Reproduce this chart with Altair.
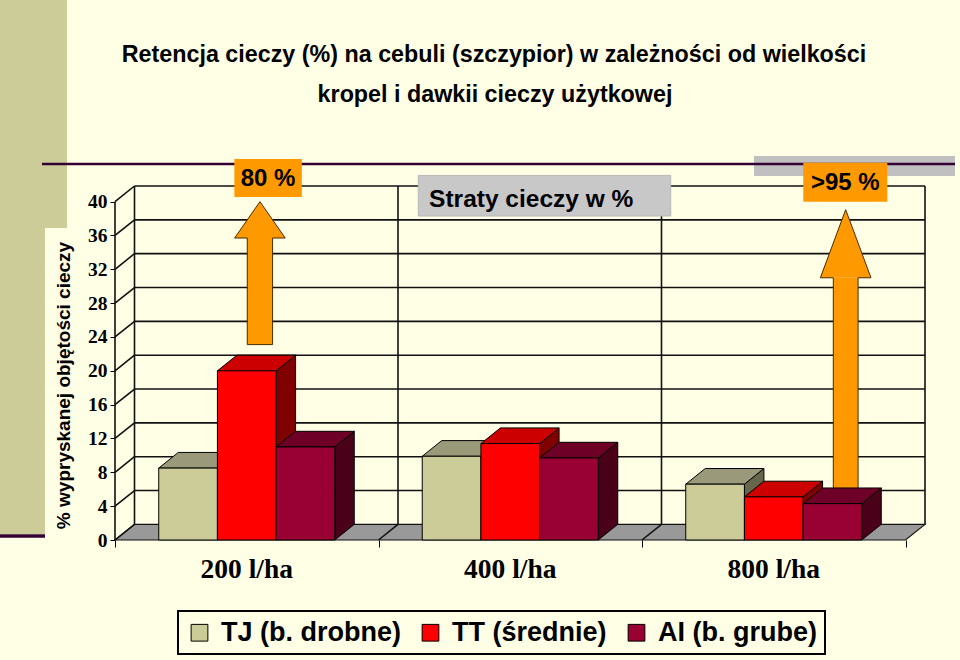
import altair as alt
import pandas as pd

# ---------------- data ----------------
categories = ["200 l/ha", "400 l/ha", "800 l/ha"]
series = ["TJ (b. drobne)", "TT (średnie)", "AI (b. grube)"]
tj_values = [8.5, 9.9, 6.6]
tt_values = [20.0, 11.4, 5.1]
ai_values = [11.0, 9.7, 4.3]
y_ticks = [0, 4, 8, 12, 16, 20, 24, 28, 32, 36, 40]
title_lines = ["Retencja cieczy (%) na cebuli (szczypior) w zależności od  wielkości",
               "kropel i dawkii cieczy użytkowej"]
axis_title = "% wypryskanej objętości cieczy"
loss_title = "Straty cieczy w %"
loss_labels = ["80 %", ">95 %"]

# ---------------- styles / geometry ----------------
FRONT = ["#CCCC99", "#FF0000", "#990033"]
TOP = ["#9A9A7A", "#CC0000", "#6E0028"]
SIDE = ["#66664D", "#800000", "#4A0018"]
BG = "#FFFFE6"
ORANGE = "#FF9900"
LINE = "#111111"

W, H = 810, 354
DX, DY = 0.074, 1.85          # depth offset in data units
XMAX, YMAX = 3 + DX, 40 + DY
GROUP = 0.668
BAR = GROUP / 3

xscale = alt.Scale(domain=[0, XMAX], nice=False, zero=False)
yscale = alt.Scale(domain=[0, YMAX], nice=False, zero=False)
xaxis = alt.Axis(values=[0, 1, 2, 3], labels=False, domain=False, grid=False,
                 tickSize=7, tickColor="black", tickWidth=1)
yaxis = alt.Axis(values=y_ticks, domain=False, grid=False, tickSize=5,
                 tickColor="black", tickWidth=1, labelFont="Liberation Serif",
                 labelFontWeight="bold", labelFontSize=19.5, labelColor="black",
                 labelPadding=3, title=axis_title, titleFont="Liberation Sans",
                 titleFontWeight="bold", titleFontSize=19, titleColor="black",
                 titleX=-52, titleY=199, titleAngle=270, titleAlign="center",
                 titleBaseline="middle")


def X(f):
    return alt.X(f, type="quantitative", scale=xscale, axis=xaxis, title=None, stack=None)


def Y(f):
    return alt.Y(f, type="quantitative", scale=yscale, axis=yaxis, stack=None)


# ---------------- tables ----------------
value_lists = [tj_values, tt_values, ai_values]
front_rows, top_rows, side_rows = [], [], []
for i, cat in enumerate(categories):
    for j, s in enumerate(series):
        v = value_lists[j][i]
        x0 = i + 0.5 - GROUP / 2 + j * BAR
        x1 = x0 + BAR
        bid = f"{i}-{j}"
        front_rows.append({"series": s, "x0": x0, "x1": x1, "base": 0, "v": v})
        top_rows += [{"id": bid, "y": v, "xa": x0, "xb": x1, "fill": TOP[j]},
                     {"id": bid, "y": v + DY, "xa": x0 + DX, "xb": x1 + DX, "fill": TOP[j]}]
        side_rows += [{"id": bid, "x": x1, "ya": 0, "yb": v, "fill": SIDE[j]},
                      {"id": bid, "x": x1 + DX, "ya": DY, "yb": v + DY, "fill": SIDE[j]}]
front_df = pd.DataFrame(front_rows)
top_df = pd.DataFrame(top_rows)
side_df = pd.DataFrame(side_rows)

floor_df = pd.DataFrame([{"y": 0, "xa": 0, "xb": 3}, {"y": DY, "xa": DX, "xb": 3 + DX}])

grid_rows = []
for v in y_ticks:
    grid_rows.append({"x": 0, "x2": DX, "y": v, "y2": v + DY})          # left wall
    if v > 0:
        grid_rows.append({"x": DX, "x2": 3 + DX, "y": v + DY, "y2": v + DY})  # back wall
for k in [0, 1, 2, 3]:
    grid_rows.append({"x": DX + k, "x2": DX + k, "y": DY, "y2": 40 + DY})
for k in [1, 2]:
    grid_rows.append({"x": k, "x2": k + DX, "y": 0, "y2": DY})
grid_rows.append({"x": 0, "x2": 0, "y": 0, "y2": 40})
grid_df = pd.DataFrame(grid_rows)

# arrows (annotation geometry)
arrows = [
    {"c": 0.550, "tip": 40.0, "base": 35.7, "bottom": 23.1, "hh": 0.096, "sh": 0.048},
    {"c": 2.773, "tip": 39.05, "base": 31.0, "bottom": 4.3, "hh": 0.096, "sh": 0.047},
]
head_rows, shaft_rows, outline_rows = [], [], []
for a_i, a in enumerate(arrows):
    c, tip, base, bottom, hh, sh = a["c"], a["tip"], a["base"], a["bottom"], a["hh"], a["sh"]
    head_rows += [{"id": a_i, "x": c - hh, "y": base, "y2": base},
                  {"id": a_i, "x": c, "y": tip, "y2": base},
                  {"id": a_i, "x": c + hh, "y": base, "y2": base}]
    shaft_rows.append({"id": a_i, "x0": c - sh, "x1": c + sh, "y0": bottom, "y1": base})
    pts = [(c - sh, bottom), (c - sh, base), (c - hh, base), (c, tip), (c + hh, base),
           (c + sh, base), (c + sh, bottom), (c - sh, bottom)]
    for o, (x, y) in enumerate(pts):
        outline_rows.append({"id": a_i, "o": o, "x": x, "y": y})
head_df = pd.DataFrame(head_rows)
shaft_df = pd.DataFrame(shaft_rows)
outline_df = pd.DataFrame(outline_rows)

label_boxes = pd.DataFrame([
    {"t": loss_labels[0], "x0": 0.453, "x1": 0.709, "y0": 40.55, "y1": 45.05},
    {"t": loss_labels[1], "x0": 2.612, "x1": 2.931, "y0": 40.0, "y1": 44.6},
])
label_boxes["xm"] = (label_boxes.x0 + label_boxes.x1) / 2
label_boxes["ym"] = (label_boxes.y0 + label_boxes.y1) / 2

loss_box = pd.DataFrame([{"t": loss_title, "x0": 1.151, "x1": 2.109, "y0": 38.3, "y1": 43.1,
                          "tx": 1.192, "ty": 40.5}])

cat_df = pd.DataFrame({"cat": categories, "xc": [i + 0.5 for i in range(len(categories))]})

one = pd.DataFrame({"k": [0]})

# ---------------- decorations (pixel, relative to plot origin 115,186) ----------------
OX, OY = 115, 186


def prect(x0, x1, y0, y1, color):
    return alt.Chart(one).mark_rect(color=color).encode(
        x=alt.value(x0 - OX), x2=alt.value(x1 - OX), y=alt.value(y0 - OY), y2=alt.value(y1 - OY))


def pline(x0, x1, y, color, w):
    return alt.Chart(one).mark_rule(color=color, strokeWidth=w).encode(
        x=alt.value(x0 - OX), x2=alt.value(x1 - OX), y=alt.value(y - OY))


deco = [
    prect(0, 67, 0, 228, "#CCCC99"),
    prect(0, 45, 228, 534, "#CCCC99"),
    prect(754, 955, 156, 176, "#C0C0C0"),
    pline(42, 955, 164, "#330033", 2.5),
    pline(0, 45, 536, "#330033", 3.5),
]

title_layers = [
    alt.Chart(one).mark_text(text=title_lines[0], font="Liberation Sans", fontWeight="bold",
                             fontSize=23.3, color="black", align="center", baseline="middle").encode(
        x=alt.value(494 - OX), y=alt.value(55 - OY)),
    alt.Chart(one).mark_text(text=title_lines[1], font="Liberation Sans", fontWeight="bold",
                             fontSize=23.3, color="black", align="center", baseline="middle").encode(
        x=alt.value(495 - OX), y=alt.value(95 - OY)),
]

# ---------------- chart layers ----------------
floor = alt.Chart(floor_df).mark_area(orient="horizontal", fill="#999999", stroke=LINE,
                                      strokeWidth=1.2).encode(y=Y("y"), x=X("xa"), x2="xb")

grid = alt.Chart(grid_df).mark_rule(color=LINE, strokeWidth=1.6).encode(
    x=X("x"), x2="x2", y=Y("y"), y2="y2")

loss_rect = alt.Chart(loss_box).mark_rect(color="#C8C8C8", stroke="#B8B8B8", strokeWidth=1).encode(
    x=X("x0"), x2="x1", y=Y("y0"), y2="y1")
loss_text = alt.Chart(loss_box).mark_text(font="Liberation Sans", fontWeight="bold", fontSize=24.5,
                                          color="black", align="left", baseline="middle", dy=3).encode(
    x=X("tx"), y=Y("ty"), text="t:N")

arrow_head = alt.Chart(head_df).mark_area(orient="vertical", fill=ORANGE).encode(
    x=X("x"), y=Y("y"), y2="y2", detail="id:N")
arrow_shaft = alt.Chart(shaft_df).mark_rect(color=ORANGE).encode(
    x=X("x0"), x2="x1", y=Y("y0"), y2="y1")
arrow_line = alt.Chart(outline_df).mark_line(color="#4A2A00", strokeWidth=1).encode(
    x=X("x"), y=Y("y"), detail="id:N", order="o:Q")

sides = alt.Chart(side_df).mark_area(orient="vertical", stroke="black", strokeWidth=1).encode(
    x=X("x"), y=Y("ya"), y2="yb", detail="id:N", fill=alt.Fill("fill:N", scale=None))
tops = alt.Chart(top_df).mark_area(orient="horizontal", stroke="black", strokeWidth=1).encode(
    y=Y("y"), x=X("xa"), x2="xb", detail="id:N", fill=alt.Fill("fill:N", scale=None))
fronts = alt.Chart(front_df).mark_rect(stroke="black", strokeWidth=1).encode(
    x=X("x0"), x2="x1", y=Y("base"), y2="v",
    color=alt.Color("series:N", scale=alt.Scale(domain=series, range=FRONT),
                    legend=alt.Legend(title=None, orient="none", legendX=63, legendY=425,
                                      direction="horizontal", labelFont="Liberation Sans",
                                      labelFontWeight="bold", labelFontSize=27,
                                      labelColor="black", symbolType="square",
                                      symbolSize=280, symbolStrokeColor="black",
                                      symbolStrokeWidth=1, symbolOpacity=1, labelOffset=8,
                                      columnPadding=16, padding=8, strokeColor="black",
                                      fillColor=BG, labelLimit=400)))

box_rects = alt.Chart(label_boxes).mark_rect(color=ORANGE).encode(
    x=X("x0"), x2="x1", y=Y("y0"), y2="y1")
box_text = alt.Chart(label_boxes).mark_text(font="Liberation Sans", fontWeight="bold", fontSize=24,
                                            color="black", align="center", baseline="middle", dy=1).encode(
    x=X("xm"), y=Y("ym"), text="t:N")

cat_text = alt.Chart(cat_df).mark_text(font="Liberation Serif", fontWeight="bold", fontSize=27.5,
                                       color="black", align="center", baseline="middle").encode(
    x=X("xc"), y=alt.value(384), text="cat:N")

chart = alt.layer(
    *deco, floor, grid, loss_rect, loss_text, arrow_head, arrow_shaft, arrow_line,
    sides, tops, fronts, box_rects, box_text, cat_text, *title_layers
).properties(
    width=W, height=H,
    autosize=alt.AutoSizeParams(type="none"),
    padding={"left": OX, "top": OY, "right": 960 - OX - W, "bottom": 660 - OY - H},
    background=BG,
).configure_view(stroke=None).configure_legend(strokeWidth=2)

chart.save("out.html", embed_options={"renderer": "svg", "actions": False})
